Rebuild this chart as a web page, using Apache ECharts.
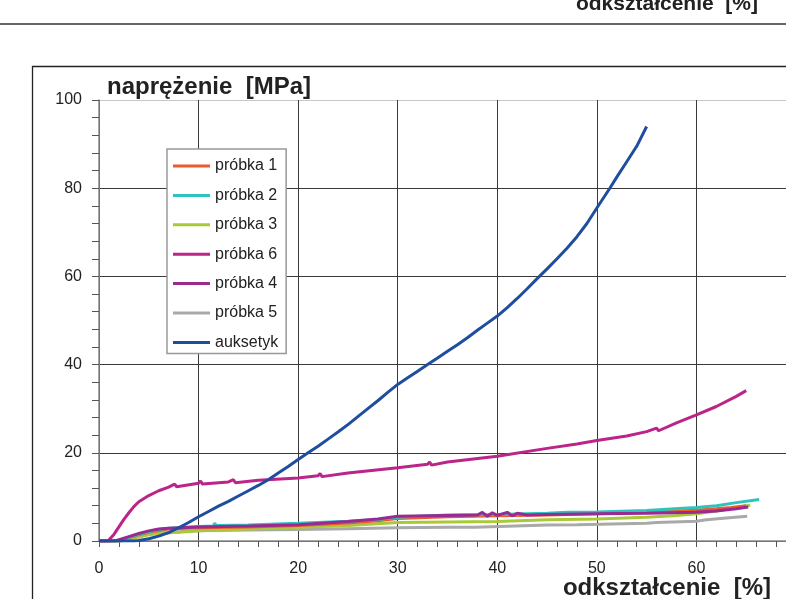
<!DOCTYPE html>
<html>
<head>
<meta charset="utf-8">
<script src="https://cdn.jsdelivr.net/npm/echarts@6/dist/echarts.min.js"></script>
<style>
html,body{margin:0;padding:0;background:#fff;}
#chart{width:786px;height:599px;}
</style>
</head>
<body>
<div id="chart"></div>
<script>
// ---- data (x = odkształcenie [%], y = naprężenie [MPa]) ----
var seriesNames = ['próbka 1', 'próbka 2', 'próbka 3', 'próbka 6', 'próbka 4', 'próbka 5', 'auksetyk'];
var xTicks = [0, 10, 20, 30, 40, 50, 60, 70];
var yTicks = [0, 20, 40, 60, 80, 100];

var probka1 = [[0,0],[1.8,0],[3,0.7],[4,1.4],[5,2.0],[6,2.4],[7,2.7],[10,3.0],[15,3.2],[20,3.5],[25,4.1],[28,4.6],[30,5.1],[35,5.5],[40,5.7],[45,5.9],[50,6.2],[55,6.5],[58,6.8],[60,7.0],[62,7.3],[63.5,7.6],[65,8.0]];
var probka2 = [[0,0],[1.8,0],[3,0.8],[4,1.5],[5,2.1],[6,2.6],[7,2.9],[10,3.3],[11.5,3.4],[11.6,4.0],[11.8,3.5],[15,3.6],[20,4.0],[25,4.5],[28,4.9],[30,5.4],[35,5.9],[40,6.0],[45,6.3],[47,6.5],[50,6.6],[55,6.9],[57,7.2],[60,7.6],[62,8.0],[64,8.7],[66.3,9.4]];
var probka3 = [[0,0],[2.2,0],[3,0.4],[4,0.9],[5,1.4],[6,1.7],[8,2.0],[10,2.3],[15,2.7],[20,3.1],[25,3.5],[30,4.2],[35,4.3],[40,4.4],[45,4.8],[50,5.0],[55,5.4],[58,5.8],[60,6.2],[62,6.8],[64,7.6],[65.4,8.1]];
var probka6 = [[0,0],[0.9,0],[1.5,1.5],[2,3.2],[2.5,4.9],[3,6.4],[3.5,7.8],[4,8.9],[5,10.3],[6,11.4],[7,12.2],[7.6,12.9],[7.8,12.3],[8,12.7],[10,13.1],[10.2,13.6],[10.4,12.9],[13,13.4],[13.5,13.9],[13.7,13.2],[16,13.8],[20,14.3],[22,14.8],[22.2,15.3],[22.4,14.6],[25,15.4],[30,16.6],[33,17.4],[33.2,17.9],[33.4,17.2],[35,17.9],[40,19.2],[45,21.0],[48,22.0],[50,22.8],[53,23.8],[55,24.8],[56,25.6],[56.2,25.0],[58,26.8],[60,28.6],[62,30.5],[64,32.8],[65,34.1]];
var probka4 = [[0,0],[1.6,0],[3,1.0],[4,1.7],[5,2.3],[6,2.7],[7,2.9],[10,3.2],[15,3.4],[20,3.7],[25,4.4],[28,5.0],[30,5.6],[35,5.8],[38,5.9],[38.5,6.5],[39,5.6],[39.5,6.4],[40,5.8],[41,6.5],[41.5,5.7],[42,6.3],[43,5.9],[45,6.0],[50,6.2],[55,6.3],[60,6.5],[62,6.8],[64,7.3],[65.2,7.7]];
var probka5 = [[0,0],[2.2,0],[3,0.5],[4,1.1],[5,1.5],[6,1.8],[8,2.1],[10,2.3],[15,2.5],[20,2.6],[25,2.8],[30,3.0],[35,3.1],[37.8,3.1],[38,3.5],[45,3.6],[48,3.7],[48.2,3.9],[55,4.0],[56,4.2],[60,4.5],[61,4.8],[63,5.2],[65.1,5.6]];
var auksetyk = [[0,0],[3.5,0],[4,0.1],[5,0.5],[6,1.1],[7,1.9],[8,3.0],[9,4.2],[10,5.5],[11,6.7],[12,7.9],[13,9.0],[14,10.2],[15,11.4],[16,12.6],[17,13.9],[18,15.4],[19,16.9],[20,18.5],[21,20.0],[22,21.5],[23,23.1],[24,24.7],[25,26.4],[26,28.2],[27,30.0],[28,31.8],[29,33.7],[30,35.5],[31,37.0],[32,38.5],[33,40.0],[34,41.5],[35,43.0],[36,44.5],[37,46.1],[38,47.8],[39,49.4],[40,51.0],[41,52.9],[42,55.0],[43,57.2],[44,59.5],[45,61.7],[46,64.0],[47,66.4],[48,69.0],[49,72.0],[50,75.5],[51.3,80],[52,82.5],[53,86],[54,89.5],[55,94]];

var colors = {
  'próbka 1': '#ee5a2c',
  'próbka 2': '#2fc3bd',
  'próbka 3': '#a9c938',
  'próbka 6': '#bb2488',
  'próbka 4': '#982a92',
  'próbka 5': '#a9a9a9',
  'auksetyk': '#1f4e9e'
};
var dataByName = {
  'próbka 1': probka1, 'próbka 2': probka2, 'próbka 3': probka3,
  'próbka 6': probka6, 'próbka 4': probka4, 'próbka 5': probka5, 'auksetyk': auksetyk
};
var drawOrder = ['próbka 5', 'próbka 3', 'próbka 1', 'próbka 2', 'próbka 4', 'próbka 6', 'auksetyk'];

var chart = echarts.init(document.getElementById('chart'), null, {renderer: 'canvas'});
var FONT = '"Liberation Sans", Arial, sans-serif';

var series = drawOrder.map(function (n) {
  return {
    name: n, type: 'line', data: dataByName[n], showSymbol: false, symbol: 'none',
    color: colors[n], lineStyle: {width: 3, color: colors[n]}, animation: false,
    clip: true
  };
});

chart.setOption({
  animation: false,
  backgroundColor: '#fff',
  grid: {left: 99, top: 100, width: 697, height: 441, containLabel: false, outerBoundsMode: 'none'},
  xAxis: {
    type: 'value', min: xTicks[0], max: xTicks[xTicks.length - 1], interval: 10,
    axisLine: {show: true, lineStyle: {color: '#8a8a8a', width: 1.5}},
    axisTick: {show: true, length: 6, lineStyle: {color: '#555', width: 1}},
    minorTick: {show: true, splitNumber: 5, length: 6, lineStyle: {color: '#555', width: 1}},
    splitLine: {show: true, lineStyle: {color: '#3a3a3a', width: 1}},
    axisLabel: {fontSize: 16, color: '#222', fontFamily: FONT, margin: 20}
  },
  yAxis: {
    type: 'value', min: yTicks[0], max: yTicks[yTicks.length - 1], interval: 20,
    axisLine: {show: true, lineStyle: {color: '#8a8a8a', width: 1.5}},
    axisTick: {show: true, length: 7, lineStyle: {color: '#555', width: 1}},
    minorTick: {show: true, splitNumber: 5, length: 7, lineStyle: {color: '#555', width: 1}},
    splitLine: {show: true, lineStyle: {color: ['#3a3a3a', '#3a3a3a', '#3a3a3a', '#3a3a3a', '#3a3a3a', '#c8c8c8'], width: 1}},
    axisLabel: {fontSize: 16, color: '#222', fontFamily: FONT, margin: 17}
  },
  legend: {
    data: seriesNames,
    orient: 'vertical', left: 167, top: 149,
    icon: 'rect', itemWidth: 37, itemHeight: 3, itemGap: 13.4,
    padding: [9, 8, 3, 6],
    backgroundColor: '#fff', borderColor: '#999', borderWidth: 1.5, borderRadius: 0,
    textStyle: {fontSize: 16, color: '#222', fontFamily: FONT, lineHeight: 16, padding: [0, 0, 0, 0]},
    selectedMode: false
  },
  graphic: [
    {type: 'line', shape: {x1: 0, y1: 24, x2: 786, y2: 24}, style: {stroke: '#333', lineWidth: 1.5}, z: 10},
    {type: 'rect', shape: {x: 32.5, y: 66.5, width: 800, height: 600}, style: {fill: 'none', stroke: '#222', lineWidth: 1.3}, z: 10},
    {type: 'text', x: 758, y: 4, z: 10, style: {text: 'odkształcenie  [%]', font: 'bold 21px ' + FONT, fill: '#222', textAlign: 'right', textVerticalAlign: 'middle'}},
    {type: 'text', x: 107, y: 87, z: 10, style: {text: 'naprężenie  [MPa]', font: 'bold 24px ' + FONT, fill: '#222', textAlign: 'left', textVerticalAlign: 'middle'}},
    {type: 'text', x: 771, y: 588, z: 10, style: {text: 'odkształcenie  [%]', font: 'bold 24px ' + FONT, fill: '#222', textAlign: 'right', textVerticalAlign: 'middle'}}
  ],
  series: series
});
</script>
</body>
</html>
